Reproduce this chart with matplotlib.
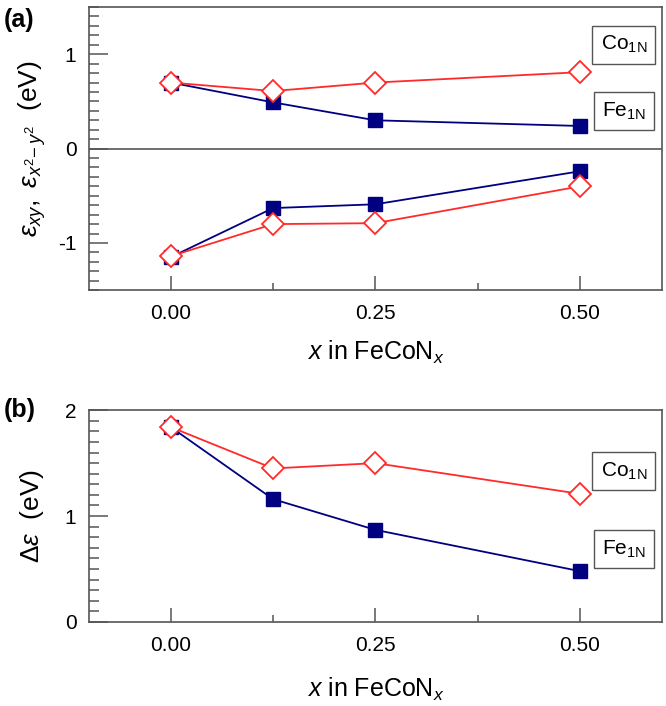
import matplotlib
matplotlib.use("Agg")
import matplotlib.pyplot as plt
from matplotlib.ticker import MultipleLocator, FixedLocator

plt.rcParams["font.family"] = ["Liberation Sans", "DejaVu Sans"]
plt.rcParams["mathtext.fontset"] = "custom"
plt.rcParams["mathtext.rm"] = "Liberation Sans"
plt.rcParams["mathtext.it"] = "Liberation Sans:italic"
plt.rcParams["axes.unicode_minus"] = False

# composition x in FeCoN_x
x = [0.0, 0.125, 0.25, 0.5]

# (a) eps_xy / eps_x2-y2 levels, upper and lower branches
fe_upper = [0.70, 0.49, 0.30, 0.24]
co_upper = [0.70, 0.61, 0.70, 0.81]
fe_lower = [-1.15, -0.63, -0.59, -0.24]
co_lower = [-1.14, -0.80, -0.79, -0.40]

# (b) splitting delta eps
fe_delta = [1.84, 1.16, 0.87, 0.48]
co_delta = [1.84, 1.45, 1.50, 1.21]

xticks = [0.0, 0.25, 0.5]
xtick_labels = ["0.00", "0.25", "0.50"]

NAVY = "#000080"
RED = "#ff2a2a"
FRAME = "#555555"

fig = plt.figure(figsize=(6.66, 7.06), dpi=100)
ax_a = fig.add_axes([0.1336, 0.589, 0.860, 0.401])
ax_b = fig.add_axes([0.1336, 0.119, 0.860, 0.300])


def style(ax):
    for s in ax.spines.values():
        s.set_color(FRAME)
        s.set_linewidth(1.2)
    ax.set_xlim(-0.1, 0.6)
    ax.xaxis.set_major_locator(FixedLocator(xticks))
    ax.xaxis.set_minor_locator(FixedLocator([0.125, 0.375]))
    ax.set_xticklabels(xtick_labels)
    ax.yaxis.set_major_locator(MultipleLocator(1))
    ax.yaxis.set_minor_locator(MultipleLocator(0.1))
    ax.tick_params(axis="both", which="both", direction="in", top=False, right=False,
                   color=FRAME, labelsize=15)
    ax.tick_params(axis="x", which="major", length=10, width=1.1, pad=10)
    ax.tick_params(axis="x", which="minor", length=5, width=1.1)
    ax.tick_params(axis="y", which="major", length=14, width=1.1, pad=9)
    ax.tick_params(axis="y", which="minor", length=7, width=1.1)
    ax.set_xlabel(r"$\mathit{x}$ in FeCoN$_{\mathit{x}}$", fontsize=18)
    ax.xaxis.label.set_va("center")


def series(ax, fe, co):
    ax.plot(x, fe, "-s", color=NAVY, lw=1.3, ms=10, mfc=NAVY, mec=NAVY, zorder=3)
    ax.plot(x, co, "-D", color=RED, lw=1.3, ms=11, mfc="white", mec=RED, mew=1.3, zorder=4)


def tag(ax, ypos, label):
    ax.text(0.934, ypos, label, transform=ax.transAxes, ha="center", va="center",
            fontsize=15,
            bbox=dict(boxstyle="square,pad=0.4", fc="white", ec=FRAME, lw=1.0))


# panel (a)
style(ax_a)
ax_a.set_ylim(-1.5, 1.5)
ax_a.axhline(0, color=FRAME, lw=1.2, zorder=1)
series(ax_a, fe_upper, co_upper)
series(ax_a, fe_lower, co_lower)
ax_a.set_ylabel(r"$\varepsilon_{xy},\ \varepsilon_{x^2\!-y^2}$  (eV)", fontsize=19)
ax_a.yaxis.label.set_va("center")
ax_a.yaxis.set_label_coords(-0.1, 0.5)
ax_a.xaxis.set_label_coords(0.5, -0.219)
tag(ax_a, 0.867, r"Co$_{\mathregular{1N}}$")
tag(ax_a, 0.633, r"Fe$_{\mathregular{1N}}$")

# panel (b)
style(ax_b)
ax_b.set_ylim(0, 2)
series(ax_b, fe_delta, co_delta)
ax_b.set_ylabel(r"$\Delta\varepsilon$  (eV)", fontsize=19)
ax_b.yaxis.label.set_va("center")
ax_b.yaxis.set_label_coords(-0.1, 0.5)
ax_b.xaxis.set_label_coords(0.5, -0.32)
tag(ax_b, 0.712, r"Co$_{\mathregular{1N}}$")
tag(ax_b, 0.344, r"Fe$_{\mathregular{1N}}$")

fig.text(0.006, 0.972, "(a)", fontsize=18, fontweight="bold", va="center")
fig.text(0.006, 0.419, "(b)", fontsize=18, fontweight="bold", va="center")

fig.savefig("out.png", dpi=100)
